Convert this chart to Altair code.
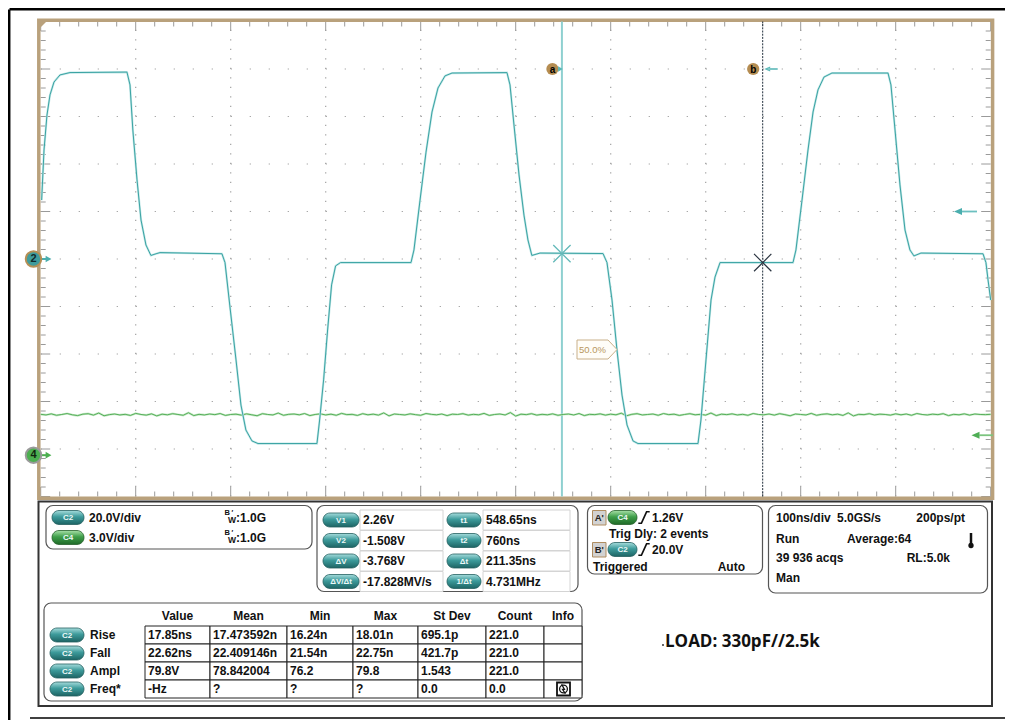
import altair as alt
import numpy as np
import pandas as pd

FONT = "Liberation Sans"

# ---------------- DATA ----------------
# Channel 2 waveform: time (ns) and voltage (V), read from the screen
c2_t = [1.0, 3.5, 6.6, 9.8, 14.0, 20.3, 30.8, 90.8, 94.0, 97.0, 101.4, 105.6, 110.8, 116.0, 121.4, 125.6, 190.8,
        194.0, 199.0, 205.6, 210.8, 216.0, 222.4, 228.7, 290.8, 293.6, 297.8, 302.0, 306.2, 310.4, 315.6, 389.8,
        392.9, 399.3, 405.6, 411.9, 418.2, 425.6, 433.0, 490.8, 494.0, 498.2, 503.5, 508.7, 512.9, 517.0, 525.6,
        591.9, 596.1, 601.4, 606.6, 611.9, 617.2, 623.5, 628.7, 691.9, 695.0, 700.3, 705.6, 709.8, 715.1, 791.9,
        795.0, 801.4, 807.7, 813.0, 818.2, 824.5, 832.9, 891.9, 895.0, 899.3, 904.5, 909.8, 915.0, 919.2, 926.6,
        991.9, 995.0, 997.2, 1000.0]
c2_v = [24.8, 45.9, 60.6, 69.1, 74.5, 77.5, 78.5, 78.7, 73.3, 54.3, 33.3, 16.4, 5.9, 1.5, 2.2, 2.7, 2.2,
        -1.5, -19.4, -42.5, -61.5, -72.0, -76.6, -77.7, -77.7, -67.8, -50.9, -29.9, -10.9, -2.9, -1.5, -1.5,
        3.8, 24.8, 45.0, 61.9, 72.0, 77.1, 78.3, 78.5, 73.3, 56.4, 35.4, 18.5, 8.0, 1.5, 2.5,
        2.3, -1.5, -17.3, -38.3, -57.3, -69.9, -76.6, -77.7, -77.7, -67.8, -42.5, -17.3, -7.6, -1.5, -1.5,
        3.8, 24.8, 45.9, 61.9, 71.2, 76.6, 78.3, 78.3, 73.3, 54.3, 31.2, 12.2, 3.8, 1.3, 2.5,
        2.2, -1.5, -8.8, -17.3]
# Channel 4 (noisy, nearly flat) voltage samples across the 1000 ns record
c4_v = [2.58, 2.54, 2.61, 2.52, 2.57, 2.63, 2.55, 2.50, 2.59, 2.62, 2.53, 2.66, 2.49, 2.56, 2.60, 2.54, 2.58, 2.51, 2.64, 2.57,
        2.53, 2.61, 2.48, 2.59, 2.55, 2.62, 2.57, 2.52, 2.68, 2.50, 2.58, 2.54, 2.60, 2.56, 2.63, 2.51, 2.57, 2.59, 2.53, 2.61,
        2.55, 2.49, 2.62, 2.57, 2.54, 2.66, 2.52, 2.58, 2.60, 2.55, 2.63, 2.50, 2.57, 2.61, 2.54, 2.59, 2.52, 2.64, 2.56, 2.58,
        2.51, 2.62, 2.55, 2.59, 2.53, 2.67, 2.48, 2.60, 2.57, 2.54, 2.61, 2.56, 2.52, 2.63, 2.58, 2.55, 2.60, 2.50, 2.59, 2.57,
        2.62, 2.53, 2.58, 2.55, 2.64, 2.51, 2.57, 2.60, 2.54, 2.69, 2.47, 2.59, 2.56, 2.62, 2.53, 2.58, 2.55, 2.61, 2.52, 2.57,
        2.60, 2.54, 2.63, 2.50, 2.58, 2.56, 2.61, 2.53, 2.59, 2.55, 2.65, 2.49, 2.58, 2.62, 2.54, 2.57, 2.60, 2.52, 2.63, 2.56,
        2.59, 2.51, 2.57, 2.62, 2.55, 2.58, 2.53, 2.66, 2.50, 2.59, 2.56, 2.61, 2.54, 2.58, 2.52, 2.63, 2.57, 2.55, 2.60, 2.53,
        2.62, 2.56, 2.49, 2.60, 2.57, 2.54, 2.64, 2.52, 2.58, 2.61, 2.55, 2.59, 2.51, 2.67, 2.48, 2.58, 2.56, 2.62, 2.54, 2.59,
        2.57, 2.53, 2.61, 2.55, 2.60, 2.52, 2.63, 2.57, 2.54, 2.59, 2.56, 2.62, 2.50, 2.58, 2.55, 2.61, 2.53, 2.60, 2.57, 2.56, 2.58]
c4_t = np.linspace(0, 1000, len(c4_v))

time_per_div = 100.0      # ns/div
c2_volts_per_div = 20.0
c4_volts_per_div = 3.0
c2_position = 0.0         # divisions
c4_position = -4.13       # divisions
cursor_names = ["a", "b"]
cursor_t = [548.65, 760.0]
cursor_v = [2.26, -1.508]
trig_c2_level = 20.0
trig_c4_level = 1.26

ch_names = ["C2", "C4"]
ch_scale_txt = ["20.0V/div", "3.0V/div"]
ch_bw_txt = [":1.0G", ":1.0G"]

cur_left_labels = ["V1", "V2", "ΔV", "ΔV/Δt"]
cur_left_values = ["2.26V", "-1.508V", "-3.768V", "-17.828MV/s"]
cur_right_labels = ["t1", "t2", "Δt", "1/Δt"]
cur_right_values = ["548.65ns", "760ns", "211.35ns", "4.731MHz"]

trig_texts = ["1.26V", "Trig Dly: 2 events", "20.0V", "Triggered", "Auto"]
tb_texts = ["100ns/div", "5.0GS/s", "200ps/pt", "Run", "Average:64", "39 936 acqs", "RL:5.0k", "Man"]

meas_cols = ["Value", "Mean", "Min", "Max", "St Dev", "Count", "Info"]
meas_rows = ["Rise", "Fall", "Ampl", "Freq*"]
meas_value = ["17.85ns", "22.62ns", "79.8V", "-Hz"]
meas_mean = ["17.473592n", "22.409146n", "78.842004", "?"]
meas_min = ["16.24n", "21.54n", "76.2", "?"]
meas_max = ["18.01n", "22.75n", "79.8", "?"]
meas_std = ["695.1p", "421.7p", "1.543", "0.0"]
meas_count = ["221.0", "221.0", "221.0", "0.0"]
load_note = "LOAD: 330pF//2.5k"

# ---------------- LAYOUT (screen pixels) ----------------
W, H = 997, 712
OX, OY = 8, 8
GX0, GX1, GY0, GY1 = 40.7, 990.7, 21.5, 496.5
NDIV = 10


def sc(d0, d1, r0, r1):
    return alt.Scale(domain=[d0, d1], range=[r0, r1], nice=False, zero=False)


PX = sc(OX, OX + W, 0, W)
PY = sc(OY, OY + H, 0, H)
TS = sc(0, time_per_div * NDIV, GX0 - OX, GX1 - OX)
V2S = sc((-NDIV / 2 - c2_position) * c2_volts_per_div, (NDIV / 2 - c2_position) * c2_volts_per_div, GY1 - OY, GY0 - OY)
V4S = sc((-NDIV / 2 - c4_position) * c4_volts_per_div, (NDIV / 2 - c4_position) * c4_volts_per_div, GY1 - OY, GY0 - OY)
VMIN, VMAX = -NDIV / 2 * c2_volts_per_div, NDIV / 2 * c2_volts_per_div


def ex(f, s):
    return alt.X(f"{f}:Q", scale=s, axis=None)


def ey(f, s):
    return alt.Y(f"{f}:Q", scale=s, axis=None)


def rules(rows, xs=PX, ys=PY, **kw):
    df = pd.DataFrame(rows, columns=["x", "x2", "y", "y2"])
    return alt.Chart(df).mark_rule(**kw).encode(x=ex("x", xs), x2="x2:Q", y=ey("y", ys), y2="y2:Q")


def boxes(rows, xs=PX, ys=PY, **kw):
    df = pd.DataFrame(rows, columns=["x", "x2", "y", "y2"])
    return alt.Chart(df).mark_rect(**kw).encode(x=ex("x", xs), x2="x2:Q", y=ey("y", ys), y2="y2:Q")


def texts(rows, size=12, weight="bold", align="left", color="#111111", font=FONT, xs=PX, ys=PY, **kw):
    df = pd.DataFrame(rows, columns=["x", "y", "t"])
    return alt.Chart(df).mark_text(fontSize=size, fontWeight=weight, align=align, baseline="middle",
                                   color=color, font=font, **kw).encode(x=ex("x", xs), y=ey("y", ys), text="t:N")


def points(rows, xs=PX, ys=PY, **kw):
    df = pd.DataFrame(rows, columns=["x", "y"])
    kw.setdefault("opacity", 1)
    return alt.Chart(df).mark_point(**kw).encode(x=ex("x", xs), y=ey("y", ys))


def line(rows, xs=PX, ys=PY, **kw):
    df = pd.DataFrame(rows, columns=["x", "y"])
    df["i"] = range(len(df))
    return alt.Chart(df).mark_line(**kw).encode(x=ex("x", xs), y=ey("y", ys), order="i:Q")


TEAL = "#3aa3a3"
GREEN = "#4aa84e"
BROWN = "#b9a17c"


def grad(c0, c1, c2):
    return alt.LinearGradient(gradient="linear", x1=0, x2=0, y1=0, y2=1,
                              stops=[alt.GradientStop(color=c0, offset=0),
                                     alt.GradientStop(color=c1, offset=0.45),
                                     alt.GradientStop(color=c2, offset=1)])


TEAL_G = grad("#a6dcdc", "#3d9b9b", "#1d6464")
GREEN_G = grad("#a8e0a8", "#3f9f4a", "#1f6a28")

L = []

# outer page frame lines
L.append(rules([[9.5, 1005, 9.2, 9.2]], stroke="#000000", strokeWidth=2.5))
L.append(rules([[9.2, 9.2, 9.5, 720]], stroke="#000000", strokeWidth=2.5))
L.append(rules([[30, 1005, 718, 718]], stroke="#000000", strokeWidth=1.5))

# graticule dots (major lines dotted at minor subdivisions)
vt = [[k * time_per_div, k * time_per_div, VMIN, VMAX] for k in range(1, NDIV)]
L.append(rules(vt, xs=TS, ys=V2S, stroke="#a0a0a0", strokeWidth=1.2, strokeDash=[1.2, 8.3]))
hv = [[0, time_per_div * NDIV, k * c2_volts_per_div, k * c2_volts_per_div] for k in range(-4, 5)]
L.append(rules(hv, xs=TS, ys=V2S, stroke="#a0a0a0", strokeWidth=1.2, strokeDash=[1.2, 17.8]))

# edge ticks
tb_ticks, side_ticks = [], []
for k in range(0, 51):
    t = k * time_per_div / 5
    ln = 9.5 if k % 5 == 0 else 5
    tb_ticks.append([t, t, GY0, GY0 + ln])
    tb_ticks.append([t, t, GY1 - ln, GY1])
L.append(rules(tb_ticks, xs=TS, ys=PY, stroke="#9a9a9a", strokeWidth=1))
for k in range(0, 51):
    v = VMIN + k * c2_volts_per_div / 5
    ln = 9.5 if k % 5 == 0 else 5
    side_ticks.append([GX0, GX0 + ln, v, v])
    side_ticks.append([GX1 - ln, GX1, v, v])
L.append(rules(side_ticks, xs=PX, ys=V2S, stroke="#9a9a9a", strokeWidth=1))

# brown frame
L.append(boxes([[38.8, 992.6, 20.3, 498.2]], fill="transparent", stroke=BROWN, strokeWidth=3.5))
L.append(points([[43.5, 24.5]], shape="M-1,-1L1,-1L-1,1Z", size=49, filled=True, color=BROWN, strokeWidth=0))

# cursors
L.append(rules([[cursor_t[0], cursor_t[0], VMIN, VMAX]], xs=TS, ys=V2S, stroke="#8fd0d0", strokeWidth=2))
L.append(rules([[cursor_t[1], cursor_t[1], VMIN, VMAX]], xs=TS, ys=V2S, stroke="#1f2d3a", strokeWidth=1,
               strokeDash=[2, 1.2]))

# channel 4 trace
c4_rows = list(zip(c4_t, c4_v))
L.append(line(c4_rows, xs=TS, ys=V4S, stroke="#c6e8c6", strokeWidth=2.2))
L.append(line(c4_rows, xs=TS, ys=V4S, stroke=GREEN, strokeWidth=0.9))
# channel 2 trace
c2_rows = list(zip(c2_t, c2_v))
L.append(line(c2_rows, xs=TS, ys=V2S, stroke="#c2e7e7", strokeWidth=2.2))
L.append(line(c2_rows, xs=TS, ys=V2S, stroke=TEAL, strokeWidth=1))

# cursor crosses
XPATH = "M-1,-1L1,1M-1,1L1,-1"
L.append(points([[cursor_t[0], cursor_v[0]]], xs=TS, ys=V2S, shape=XPATH, size=300, filled=False,
                stroke="#63b9b9", strokeWidth=1.3))
L.append(points([[cursor_t[1], cursor_v[1]]], xs=TS, ys=V2S, shape=XPATH, size=300, filled=False,
                stroke="#2a3440", strokeWidth=1.2))

# cursor name badges
badge = [[t, 69] for t in cursor_t]
L.append(points(badge, xs=TS, ys=PY, shape="circle", size=150, filled=True, color="#b58d52",
                strokeWidth=0, xOffset=-9.5))
L.append(texts([[cursor_t[i], 69.5, cursor_names[i]] for i in range(2)], size=10, xs=TS, ys=PY,
               align="center", color="#000000", xOffset=-9.5))
L.append(points([[cursor_t[0], 69]], xs=TS, ys=PY, shape="triangle-right", size=30, filled=True,
                color="#5bb8b8", strokeWidth=0, xOffset=-1.5))
L.append(points([[cursor_t[1], 69]], xs=TS, ys=PY, shape="M-1,0L1,-0.8L1,0.8Z", size=36, filled=True,
                color="#5bb8b8", strokeWidth=0, xOffset=4.5))
L.append(points([[cursor_t[1], 69]], xs=TS, ys=PY, shape="M-1,0L1,0", size=100, filled=False,
                stroke="#7cc6c6", strokeWidth=2, xOffset=10))

# trigger level arrows on the right edge
L.append(points([[958, trig_c2_level]], xs=PX, ys=V2S, shape="M-1,0L1,-0.9L1,0.9Z", size=64, filled=True,
                color="#4aaeae", strokeWidth=0))
L.append(rules([[962, 977, trig_c2_level, trig_c2_level]], xs=PX, ys=V2S, stroke="#6cc0c0", strokeWidth=1.8))
L.append(points([[975.5, trig_c4_level]], xs=PX, ys=V4S, shape="M-1,0L1,-0.9L1,0.9Z", size=64, filled=True,
                color="#4fae55", strokeWidth=0))
L.append(rules([[979, 993, trig_c4_level, trig_c4_level]], xs=PX, ys=V4S, stroke="#7cc47f", strokeWidth=1.8))

# ground markers on the left edge
L.append(rules([[41, 46, 0, 0]], xs=PX, ys=V2S, stroke="#4aaeae", strokeWidth=2))
L.append(points([[48.5, 0]], xs=PX, ys=V2S, shape="triangle-right", size=45, filled=True, color="#4aaeae",
                strokeWidth=0))
L.append(points([[33.5, 0]], xs=PX, ys=V2S, shape="circle", size=240, filled=True, fill="#3f9c9c",
                stroke="#b58f55", strokeWidth=2))
L.append(texts([[33.5, 0.0, "2"]], xs=PX, ys=V2S, size=11, align="center", color="#102a2a"))
L.append(rules([[41, 46, 0, 0]], xs=PX, ys=V4S, stroke="#4caf50", strokeWidth=2))
L.append(points([[48.5, 0]], xs=PX, ys=V4S, shape="triangle-right", size=45, filled=True, color="#4caf50",
                strokeWidth=0))
L.append(points([[33.5, 0]], xs=PX, ys=V4S, shape="circle", size=240, filled=True, fill="#4caf50",
                stroke="#9a9a9a", strokeWidth=2))
L.append(texts([[33.5, 0.0, "4"]], xs=PX, ys=V4S, size=11, align="center", color="#10240f"))

# 50% marker
L.append(points([[597, 349.5]], shape="M-1,-0.475L0.55,-0.475L1,0L0.55,0.475L-1,0.475Z", size=1600,
                filled=True, fill="#fffdf8", stroke="#c9b08a", strokeWidth=1))
L.append(texts([[579, 349.5, "50.0%"]], size=9.5, weight="normal", color="#b8975e"))

# ---------------- bottom panels ----------------
L.append(boxes([[38.5, 992, 501.5, 706]], fill="#ffffff", stroke="#333333", strokeWidth=2))
panel_boxes = [[46, 312, 505.5, 549], [317, 578, 505.5, 591.5], [587.5, 762.5, 505.5, 574],
               [768.5, 987.5, 505.5, 593], [44, 582, 603, 701]]
L.append(boxes(panel_boxes, fill="#ffffff", stroke="#555555", strokeWidth=1.2, cornerRadius=7))

# cursor value cells
cur_rows_y = [520, 540.5, 561, 581.5]
cells = []
for y in cur_rows_y:
    cells.append([360, 443, y - 10, y + 10])
    cells.append([483, 570, y - 10, y + 10])
L.append(boxes(cells, fill="#ffffff", stroke="#d4d4d4", strokeWidth=1))

# measurement table cells
col_x = [145, 210, 287, 353, 418, 486, 544, 582]
meas_rows_y = [635, 653, 671, 689]
mcells = []
for y in meas_rows_y:
    for c in range(7):
        mcells.append([col_x[c], col_x[c + 1], y - 9, y + 9])
L.append(boxes(mcells, fill="#ffffff", stroke="#222222", strokeWidth=1))

# pills
teal_pills, green_pills, pill_txt = [], [], []
pill_specs = [(52, 84, 517.5, ch_names[0], "t"), (52, 84, 537.5, ch_names[1], "g")]
for i, y in enumerate(cur_rows_y):
    pill_specs.append((323, 359, y, cur_left_labels[i], "t"))
    pill_specs.append((447, 481, y, cur_right_labels[i], "t"))
pill_specs += [(608, 637, 517.5, "C4", "g"), (608, 637, 549.5, "C2", "t")]
for y in meas_rows_y:
    pill_specs.append((50, 84, y, "C2", "t"))
for x0, x1, y, lab, k in pill_specs:
    (teal_pills if k == "t" else green_pills).append([x0, x1, y - 7, y + 7])
    pill_txt.append([(x0 + x1) / 2, y + 0.5, lab])
L.append(boxes(teal_pills, fill=TEAL_G, stroke="#24605f", strokeWidth=0.8, cornerRadius=7))
L.append(boxes(green_pills, fill=GREEN_G, stroke="#25602a", strokeWidth=0.8, cornerRadius=7))
L.append(texts(pill_txt, size=8, align="center", color="#eef8f8"))

# channel box text
ch_rows = [517.5, 537.5]
L.append(texts([[89, ch_rows[i], ch_scale_txt[i]] for i in range(2)], size=12))
L.append(texts([[236, ch_rows[i], ch_bw_txt[i]] for i in range(2)], size=12))
L.append(texts([[224.5, y - 4.5, "B"] for y in ch_rows], size=7.5))
L.append(texts([[228, y + 2.5, "W"] for y in ch_rows], size=8.5))
L.append(texts([[231.5, y - 5, "′"] for y in ch_rows], size=7))

# cursor values
L.append(texts([[363, cur_rows_y[i], cur_left_values[i]] for i in range(4)], size=12))
L.append(texts([[486, cur_rows_y[i], cur_right_values[i]] for i in range(4)], size=12))

# trigger box
L.append(boxes([[592.5, 606, 510.5, 525], [592.5, 606, 542.5, 557]], fill="#d2d2d2", stroke="#b08d60",
               strokeWidth=1))
L.append(texts([[599.3, 518, "A'"], [599.3, 550, "B'"]], size=9.5, align="center", color="#222222"))
EDGE = "M-1,1L-0.45,1L0.45,-1L1,-1"
L.append(points([[644, 517.5], [644, 549.5]], shape=EDGE, size=130, filled=False, stroke="#111111",
                strokeWidth=1.6))
L.append(texts([[652, 517.5, trig_texts[0]], [609, 533.5, trig_texts[1]], [652, 549.5, trig_texts[2]],
                [593, 566.5, trig_texts[3]]], size=12))
L.append(texts([[745, 566.5, trig_texts[4]]], size=12, align="right"))

# timebase box
L.append(texts([[776, 518, tb_texts[0]], [837, 518, tb_texts[1]], [776, 538.5, tb_texts[3]],
                [847, 538.5, tb_texts[4]], [776, 558, tb_texts[5]], [776, 578, tb_texts[7]]], size=12))
L.append(texts([[965, 518, tb_texts[2]], [950, 558, tb_texts[6]]], size=12, align="right"))
L.append(rules([[971, 971, 533, 544]], stroke="#111111", strokeWidth=2.5))
L.append(points([[971, 545.5]], shape="circle", size=28, filled=True, color="#111111", strokeWidth=0))

# measurement table text
L.append(texts([[(col_x[c] + col_x[c + 1]) / 2, 616, meas_cols[c]] for c in range(7)], size=12,
               align="center"))
L.append(texts([[90, meas_rows_y[r], meas_rows[r]] for r in range(4)], size=12))
cols_vals = [meas_value, meas_mean, meas_min, meas_max, meas_std, meas_count]
cell_txt = []
for c, vals in enumerate(cols_vals):
    for r in range(4):
        cell_txt.append([col_x[c] + 3, meas_rows_y[r], vals[r]])
L.append(texts(cell_txt, size=12))
# info icon
L.append(boxes([[557, 570, 682.5, 695.5]], fill="#ffffff", stroke="#111111", strokeWidth=1.8))
L.append(points([[563.5, 689]], shape="circle", size=60, filled=False, stroke="#111111", strokeWidth=1.3))
L.append(points([[563.5, 689]], shape="M-0.4,-1L0.2,0.1L-0.2,0.1L0.4,1", size=90, filled=False,
                stroke="#111111", strokeWidth=1.3))

# load annotation
L.append(points([[663, 645]], shape="circle", size=4, filled=True, color="#333333", strokeWidth=0))
L.append(texts([[665, 642, load_note]], size=17, font="Open Sans", weight=700, color="#111111"))

chart = alt.layer(*L).resolve_scale(x="independent", y="independent").properties(
    width=W, height=H, padding=0, background="#ffffff",
    autosize=alt.AutoSizeParams(type="none")
).configure_view(stroke=None)

chart.save("out.html", embed_options={"renderer": "svg", "actions": False})
